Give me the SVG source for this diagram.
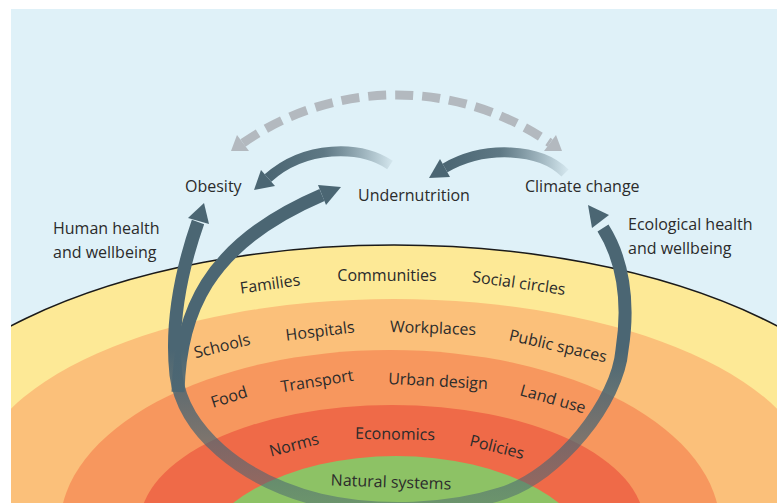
<svg xmlns="http://www.w3.org/2000/svg" width="777" height="503" viewBox="0 0 777 503">
<defs>
<clipPath id="panel"><rect x="11" y="9" width="766" height="494"/></clipPath>
<linearGradient id="loopGrad" gradientUnits="userSpaceOnUse" x1="0" y1="350" x2="0" y2="505">
<stop offset="0" stop-color="#4B6673" stop-opacity="1"/>
<stop offset="1" stop-color="#4B6673" stop-opacity="0.5"/>
</linearGradient>
<linearGradient id="gradA" gradientUnits="userSpaceOnUse" x1="268" y1="0" x2="392" y2="0">
<stop offset="0" stop-color="#4B6673"/>
<stop offset="0.45" stop-color="#5E7884"/>
<stop offset="1" stop-color="#4B6673" stop-opacity="0.08"/>
</linearGradient>
<linearGradient id="gradB" gradientUnits="userSpaceOnUse" x1="445" y1="0" x2="567" y2="0">
<stop offset="0" stop-color="#4B6673"/>
<stop offset="0.45" stop-color="#5E7884"/>
<stop offset="1" stop-color="#4B6673" stop-opacity="0.08"/>
</linearGradient>
<style>
.lbl{font-family:"Open Sans","Noto Sans","Liberation Sans",sans-serif;font-size:16px;fill:#2b2b2b}
.ring{font-family:"Open Sans","Noto Sans","Liberation Sans",sans-serif;font-size:16px;fill:#2b2b2b;text-anchor:middle}
.loop{fill:none;stroke:url(#loopGrad);stroke-width:13}
.head{fill:#4B6673}
.dash{fill:none;stroke:#B3B9BF;stroke-width:9;stroke-dasharray:18 9}
.dhead{fill:#B3B9BF}
</style>
</defs>

<rect x="11" y="9" width="766" height="494" fill="#DFF1F8"/>

<g id="layers" clip-path="url(#panel)">
<ellipse cx="394" cy="495" rx="520" ry="250" fill="#FDE996" stroke="#1a1a1a" stroke-width="1.5"/>
<ellipse cx="394" cy="485" rx="420" ry="186" fill="#FBC07A"/>
<ellipse cx="390" cy="527" rx="330" ry="177" fill="#F7975E"/>
<ellipse cx="392" cy="524" rx="252" ry="119" fill="#EF6A48"/>
<ellipse cx="396" cy="568" rx="200" ry="112" fill="#8DC265"/>
</g>

<g id="ring-labels">
<g id="families"><text class="ring" transform="translate(270,284) rotate(-8)" y="5.5">Families</text></g>
<g id="communities"><text class="ring" transform="translate(387,275)" y="5.5">Communities</text></g>
<g id="social-circles"><text class="ring" transform="translate(519,283) rotate(8)" y="5.5">Social circles</text></g>
<g id="schools"><text class="ring" transform="translate(222,346) rotate(-14)" y="5.5">Schools</text></g>
<g id="hospitals"><text class="ring" transform="translate(320,331) rotate(-7)" y="5.5">Hospitals</text></g>
<g id="workplaces"><text class="ring" transform="translate(433,328) rotate(2)" y="5.5">Workplaces</text></g>
<g id="public-spaces"><text class="ring" transform="translate(558,346) rotate(13)" y="5.5">Public spaces</text></g>
<g id="food"><text class="ring" transform="translate(229,397) rotate(-18)" y="5.5">Food</text></g>
<g id="transport"><text class="ring" transform="translate(317,381) rotate(-9)" y="5.5">Transport</text></g>
<g id="urban-design"><text class="ring" transform="translate(438,381) rotate(3)" y="5.5">Urban design</text></g>
<g id="land-use"><text class="ring" transform="translate(553,399) rotate(16)" y="5.5">Land use</text></g>
<g id="norms"><text class="ring" transform="translate(294,445) rotate(-15)" y="5.5">Norms</text></g>
<g id="economics"><text class="ring" transform="translate(395,434) rotate(1)" y="5.5">Economics</text></g>
<g id="policies"><text class="ring" transform="translate(497,447) rotate(14)" y="5.5">Policies</text></g>
<g id="natural-systems"><text class="ring" transform="translate(391,482) rotate(2)" y="5.5">Natural systems</text></g>
</g>

<g id="connectors">
<path class="dash" d="M243,143 A269,269 0 0 1 550,143"/>
<polygon class="dhead" points="231,151 249,151 237,135"/>
<polygon class="dhead" points="562,151 544,151 556,135"/>

<path d="M390,165 C360,145 305,145 268,178" fill="none" stroke="url(#gradA)" stroke-width="10"/>
<polygon class="head" points="254,190 275,186 261,170"/>
<path d="M565,173 C540,148 485,145 445,168" fill="none" stroke="url(#gradB)" stroke-width="10"/>
<polygon class="head" points="429,178 450,177 440,159"/>

<path class="loop" d="M198,222 C183,265 170,320 176,375 C183,430 240,480 320,500 C380,514 450,510 500,494 C560,476 618,400 622,350 C630,300 622,258 603,228"/>
<polygon class="head" points="204,203 209,224 188,218"/>
<polygon class="head" points="588,205 609,215 592,228"/>

<path class="loop" d="M178,392 C180,315 205,245 322,195"/>
<polygon class="head" points="341,187 326,205 318,185"/>
</g>

<g id="obesity"><text class="lbl" x="185" y="192">Obesity</text></g>
<g id="undernutrition"><text class="lbl" x="358" y="201">Undernutrition</text></g>
<g id="climate-change"><text class="lbl" x="525" y="192">Climate change</text></g>
<g id="human-health"><text class="lbl" x="53" y="234">Human health</text><text class="lbl" x="53" y="258">and wellbeing</text></g>
<g id="ecological-health"><text class="lbl" x="628" y="230">Ecological health</text><text class="lbl" x="628" y="254">and wellbeing</text></g>
</svg>
